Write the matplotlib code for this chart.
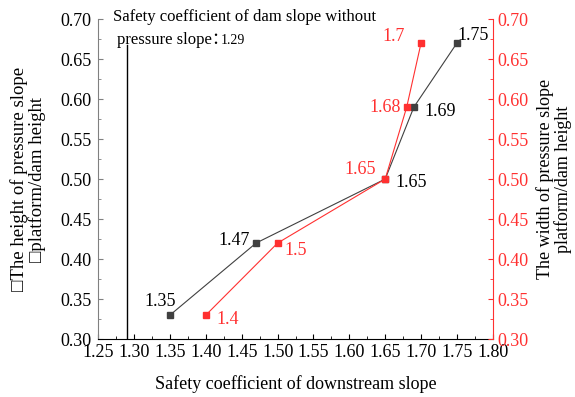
import matplotlib.pyplot as plt
from matplotlib.ticker import MultipleLocator

plt.rcParams['font.family'] = ['Liberation Serif', 'Noto Sans CJK SC', 'DejaVu Sans']

# safety coefficient vs. platform height (black) and platform width (red)
height_x = [1.35, 1.47, 1.65, 1.69, 1.75]
height_y = [0.33, 0.42, 0.50, 0.59, 0.67]
width_x = [1.40, 1.50, 1.65, 1.68, 1.70]
width_y = [0.33, 0.42, 0.50, 0.59, 0.67]
no_slope_sf = 1.29

BLACK = '#404040'
RED = '#ff3030'

fig = plt.figure(figsize=(5.75, 3.97), dpi=100)
ax = fig.add_axes([0.171, 0.146, 0.686, 0.806])
ax2 = ax.twinx()

ax.plot(height_x, height_y, color=BLACK, lw=0.8, marker='s', ms=5, zorder=3)
ax2.plot(width_x, width_y, color=RED, lw=0.8, marker='s', ms=5, zorder=3)

ax.plot([no_slope_sf, no_slope_sf], [0.30, 0.667], color='black', lw=1.0)
ax.text(1.2705, 0.7025, 'Safety coefficient of dam slope without', fontsize=12,
        va='center', clip_on=False)
t2 = ax.text(1.2762, 0.669, 'pressure slope：', fontsize=12, va='baseline')
fig.canvas.draw()
bb = t2.get_window_extent()
x_end = ax.transData.inverted().transform((bb.x1, bb.y0))[0]
ax.text(x_end + 0.002, 0.669, '%.2f' % no_slope_sf, fontsize=10, va='baseline')

# point labels, offsets of the label centre in pixels
h_off = [(-10, 14), (-22, 3), (26, -3), (26, -4), (16, 8)]
for x, y, off in zip(height_x, height_y, h_off):
    ax.annotate('%g' % x, (x, y), xytext=off, textcoords='offset pixels',
                fontsize=13, color='black', ha='center', va='center')
w_off = [(22, -4), (18, -7), (-25, 10), (-22, 0), (-27, 7)]
for x, y, off in zip(width_x, width_y, w_off):
    ax2.annotate('%g' % x, (x, y), xytext=off, textcoords='offset pixels',
                 fontsize=13, color=RED, ha='center', va='center')

for a in (ax, ax2):
    a.set_xlim(1.25, 1.80)
    a.set_ylim(0.30, 0.70)
    a.yaxis.set_major_locator(MultipleLocator(0.05))
    a.yaxis.set_minor_locator(MultipleLocator(0.025))
    a.spines['top'].set_visible(False)
ax.xaxis.set_major_locator(MultipleLocator(0.05))
ax.xaxis.set_minor_locator(MultipleLocator(0.025))

ax.spines['left'].set_color('#808080')
ax.spines['right'].set_visible(False)
ax2.spines['left'].set_visible(False)
ax2.spines['right'].set_color(RED)
ax2.spines['bottom'].set_visible(False)

ax.tick_params(axis='both', which='both', direction='in', labelsize=13)
ax.tick_params(axis='y', which='both', color='#808080')
ax.tick_params(axis='y', pad=5)
ax2.tick_params(axis='y', which='both', direction='in', labelsize=13,
                color=RED, labelcolor=RED)

ax.set_xlabel('Safety coefficient of downstream slope', fontsize=13, labelpad=10)
ax.set_ylabel('\u25a1The height of pressure slope\n\u25a1platform/dam height', fontsize=13.5,
              linespacing=1.05, labelpad=10)
ax2.set_ylabel('The width of pressure slope\nplatform/dam height', fontsize=13,
               rotation=90, linespacing=1.05, labelpad=5)

fig.savefig('out.png', dpi=100)
